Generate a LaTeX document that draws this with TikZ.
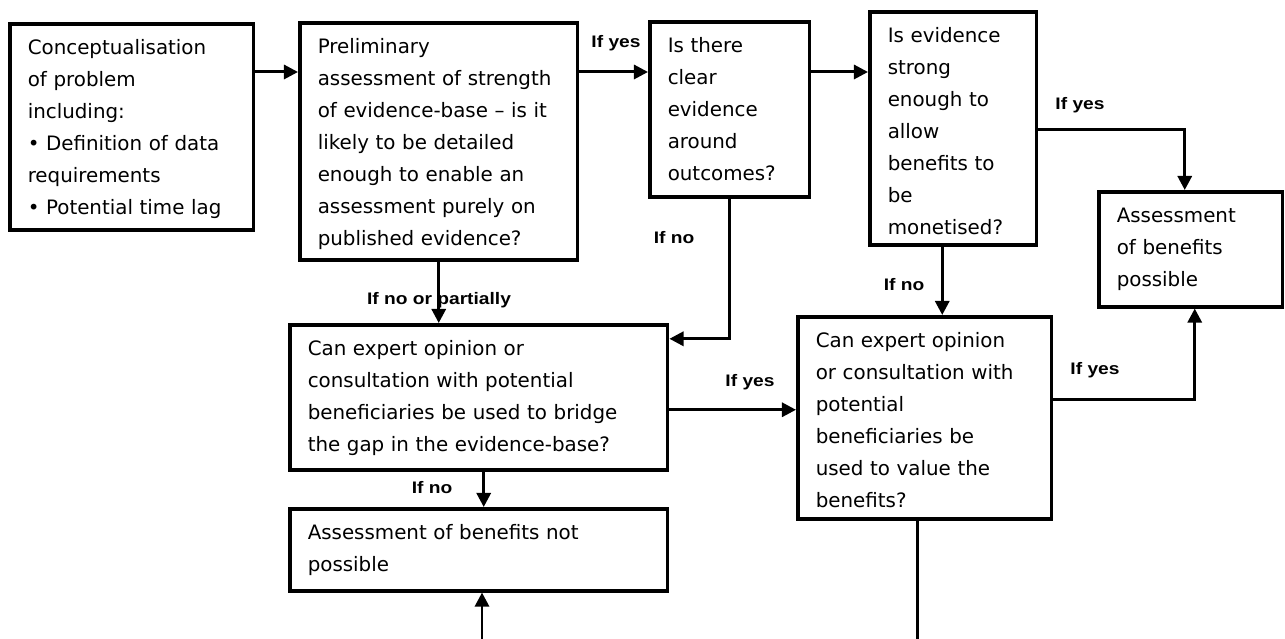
\documentclass[tikz,border=0pt]{standalone}
\usepackage{fontspec}
\setmainfont{DejaVu Sans}
\newfontfamily\labelfont[FakeStretch=1.15]{Liberation Sans}
\usepackage{tikz}
\usetikzlibrary{arrows.meta}

\tikzset{
    stage/.style={draw, line width=2pt, anchor=north west, align=left,
        inner xsep=0.36cm, inner ysep=0.34cm, text height=8pt,
        font=\fontsize{11.3}{18.2}\selectfont},
    flow/.style={line width=1.7pt, -{Triangle[length=8pt,width=8pt]}},
    cond/.style={font=\labelfont\bfseries\fontsize{9.5}{10}\selectfont, inner sep=1pt}
}

\begin{document}
\begin{tikzpicture}[x=0.02cm, y=-0.02cm]
    \useasboundingbox (0,0) rectangle (1285,639);

    % boxes, top row
    \node[stage, text width=4.16cm, text depth=3.16cm] (concept) at (8,22) {
      Conceptualisation\\of problem\\including:\\• Definition of data\\requirements\\• Potential time lag};
    \node[stage, text width=4.84cm, text depth=3.78cm] (prelim) at (298,21) {
      Preliminary\\assessment of strength\\of evidence-base -- is it\\likely to be detailed\\enough to enable an\\assessment purely on\\published evidence?};
    \node[stage, text width=2.48cm, text depth=2.54cm] (clear) at (648,20) {
      Is there\\clear\\evidence\\around\\outcomes?};
    \node[stage, text width=2.62cm, text depth=3.7cm] (strong) at (868,10) {
      Is evidence\\strong\\enough to\\allow\\benefits to\\be\\monetised?};
    \node[stage, text width=2.96cm, text depth=1.34cm] (possible) at (1097,190) {
      Assessment\\of benefits\\possible};

    % boxes, lower rows
    \node[stage, text width=6.84cm, text depth=1.94cm] (bridge) at (288,323) {
      Can expert opinion or\\consultation with potential\\beneficiaries be used to bridge\\the gap in the evidence-base?};
    \node[stage, text width=4.36cm, text depth=3.08cm] (value) at (796,315) {
      Can expert opinion\\or consultation with\\potential\\beneficiaries be\\used to value the\\benefits?};
    \node[stage, text width=6.84cm, text depth=0.68cm] (notposs) at (288,507) {
      Assessment of benefits not\\possible};

    % connectors
    \coordinate (a1) at ([yshift=-1cm]concept.north east);
    \draw[flow] (a1) -- (a1 -| prelim.west);
    \coordinate (a2) at ([yshift=-1.02cm]prelim.north east);
    \draw[flow] (a2) -- (a2 -| clear.west);
    \coordinate (a3) at ([yshift=-1.04cm]clear.north east);
    \draw[flow] (a3) -- (a3 -| strong.west);
    \coordinate (a4) at ([yshift=-2.4cm]strong.north east);
    \draw[flow] (a4) -| ([xshift=-0.12cm]possible.north);
    \draw[flow] (prelim.south) -- (prelim.south |- bridge.north);
    \coordinate (a6) at ([yshift=1.17cm]bridge.east);
    \draw[flow] (clear.south) |- (a6);
    \coordinate (a7) at ([xshift=-0.22cm]strong.south);
    \draw[flow] (a7) -- (a7 |- value.north);
    \coordinate (a8) at ([yshift=-0.25cm]bridge.east);
    \draw[flow] (a8) -- (a8 -| value.west);
    \coordinate (a9) at ([yshift=0.36cm]value.east);
    \draw[flow] (a9) -| ([xshift=0.08cm]possible.south);
    \coordinate (a10) at ([xshift=0.1cm]bridge.south);
    \draw[flow] (a10) -- (a10 |- notposs.north);
    \coordinate (in1) at (482,639);
    \draw[flow] (in1) -- (in1 |- notposs.south);
    \coordinate (a12) at ([xshift=-0.14cm]value.south);
    \coordinate (out1) at (0,639);
    \draw[line width=1.7pt] (a12) -- (a12 |- out1);

    % condition labels
    \node[cond] (yes1) at (616,43) {If yes};
    \node[cond] (yes2) at (1080,105) {If yes};
    \node[cond] (part1) at (439,300) {If no or partially};
    \node[cond] (no1) at (674,238) {If no};
    \node[cond] (no2) at (904,285) {If no};
    \node[cond] (yes3) at (750,382) {If yes};
    \node[cond] (yes4) at (1095,370) {If yes};
    \node[cond] (no3) at (432,488) {If no};
\end{tikzpicture}
\end{document}
